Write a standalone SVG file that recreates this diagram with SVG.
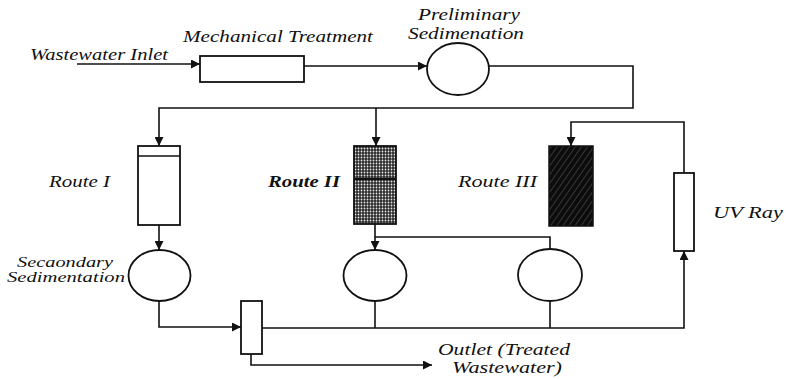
<svg xmlns="http://www.w3.org/2000/svg" width="786" height="379" viewBox="0 0 786 379">
  <style>
    .lbl { font-family: "Liberation Serif", "Times New Roman", serif; font-style: italic; font-size: 17px; fill: #111; }
    .small { font-size: 14px; }
    .bold { font-weight: bold; }
    .unit { fill: #fff; stroke: #111; stroke-width: 1.8; }
    .pipe { fill: none; stroke: #111; stroke-width: 1.6; }
  </style>
  <defs>
    <marker id="arrow" viewBox="0 0 10 10" refX="10" refY="5" markerWidth="9" markerHeight="9" markerUnits="userSpaceOnUse" orient="auto">
      <path d="M0,0 L10,5 L0,10 z" fill="#111"/>
    </marker>
    <!-- dotted media fill -->
    <pattern id="dots" width="3" height="3" patternUnits="userSpaceOnUse">
      <rect width="3" height="3" fill="#2a2a2a"/>
      <circle cx="1.5" cy="1.5" r="0.9" fill="#e8e8e8"/>
    </pattern>
    <!-- dense hatched media fill -->
    <pattern id="hatch" width="5" height="5" patternUnits="userSpaceOnUse" patternTransform="rotate(35)">
      <rect width="5" height="5" fill="#0c0c0c"/>
      <line x1="0" y1="0" x2="0" y2="5" stroke="#6a6a6a" stroke-width="0.9"/>
    </pattern>
  </defs>

  <!-- piping -->
  <g id="connectors">
    <line class="pipe" x1="77" y1="64" x2="200" y2="64" marker-end="url(#arrow)"/>
    <line class="pipe" x1="304" y1="66" x2="427" y2="66" marker-end="url(#arrow)"/>
    <polyline class="pipe" points="489,66 633,66 633,108 159,108 159,146" marker-end="url(#arrow)"/>
    <line class="pipe" x1="376" y1="108" x2="376" y2="146" marker-end="url(#arrow)"/>
    <line class="pipe" x1="159" y1="225" x2="159" y2="250" stroke-width="2.2" marker-end="url(#arrow)"/>
    <line class="pipe" x1="375" y1="224" x2="375" y2="250" marker-end="url(#arrow)"/>
    <polyline class="pipe" points="375,237 550,237 550,249"/>
    <polyline class="pipe" points="159,301 159,327 241,327" stroke-width="2" marker-end="url(#arrow)"/>
    <polyline class="pipe" points="262,328 684,328 684,251" marker-end="url(#arrow)"/>
    <line class="pipe" x1="375" y1="301" x2="375" y2="328"/>
    <line class="pipe" x1="550" y1="301" x2="550" y2="328"/>
    <polyline class="pipe" points="684,173 684,122 571,122 571,146" marker-end="url(#arrow)"/>
    <polyline class="pipe" points="251,354 251,365 432,365" marker-end="url(#arrow)"/>
  </g>

  <g id="inlet">
    <text class="lbl" x="30" y="60" textLength="138" lengthAdjust="spacingAndGlyphs">Wastewater Inlet</text>
  </g>

  <g id="mechanical-treatment">
    <rect class="unit" x="200" y="56" width="104" height="26"/>
    <text class="lbl" x="183" y="42" textLength="190" lengthAdjust="spacingAndGlyphs">Mechanical Treatment</text>
  </g>

  <g id="preliminary-sedimentation">
    <ellipse class="unit" cx="458" cy="69" rx="31" ry="26"/>
    <text class="lbl" x="418" y="20" textLength="102" lengthAdjust="spacingAndGlyphs">Preliminary</text>
    <text class="lbl" x="408" y="39" textLength="116" lengthAdjust="spacingAndGlyphs">Sedimenation</text>
  </g>

  <g id="route-1">
    <rect class="unit" x="138" y="146" width="42" height="79"/>
    <line x1="138" y1="156" x2="180" y2="156" stroke="#111" stroke-width="1.6"/>
    <text class="lbl" x="49" y="187" textLength="61" lengthAdjust="spacingAndGlyphs">Route I</text>
  </g>

  <g id="route-2">
    <rect x="354" y="146" width="42" height="78" fill="url(#dots)" stroke="#111" stroke-width="1.8"/>
    <line x1="354" y1="179" x2="396" y2="179" stroke="#111" stroke-width="2"/>
    <text class="lbl bold" x="268" y="187" textLength="72" lengthAdjust="spacingAndGlyphs">Route II</text>
  </g>

  <g id="route-3">
    <rect x="549" y="146" width="44" height="80" fill="url(#hatch)" stroke="#111" stroke-width="1.5"/>
    <text class="lbl" x="458" y="187" textLength="79" lengthAdjust="spacingAndGlyphs">Route III</text>
  </g>

  <g id="uv-ray">
    <rect class="unit" x="674" y="173" width="20" height="78"/>
    <text class="lbl" x="713" y="218" textLength="70" lengthAdjust="spacingAndGlyphs">UV Ray</text>
  </g>

  <g id="secondary-sedimentation-1">
    <ellipse class="unit" cx="159.5" cy="275.5" rx="31" ry="25.5"/>
    <text class="lbl small" x="17" y="267" textLength="96" lengthAdjust="spacingAndGlyphs">Secaondary</text>
    <text class="lbl small" x="7" y="282" textLength="118" lengthAdjust="spacingAndGlyphs">Sedimentation</text>
  </g>

  <g id="secondary-sedimentation-2">
    <ellipse class="unit" cx="375" cy="275.5" rx="31.5" ry="25.5"/>
  </g>

  <g id="secondary-sedimentation-3">
    <ellipse class="unit" cx="550" cy="275" rx="32" ry="26"/>
  </g>

  <g id="collector">
    <rect class="unit" x="241" y="301" width="21" height="53"/>
  </g>

  <g id="outlet">
    <text class="lbl" x="438" y="355" textLength="132" lengthAdjust="spacingAndGlyphs">Outlet (Treated</text>
    <text class="lbl" x="452" y="373" textLength="110" lengthAdjust="spacingAndGlyphs">Wastewater)</text>
  </g>
</svg>
